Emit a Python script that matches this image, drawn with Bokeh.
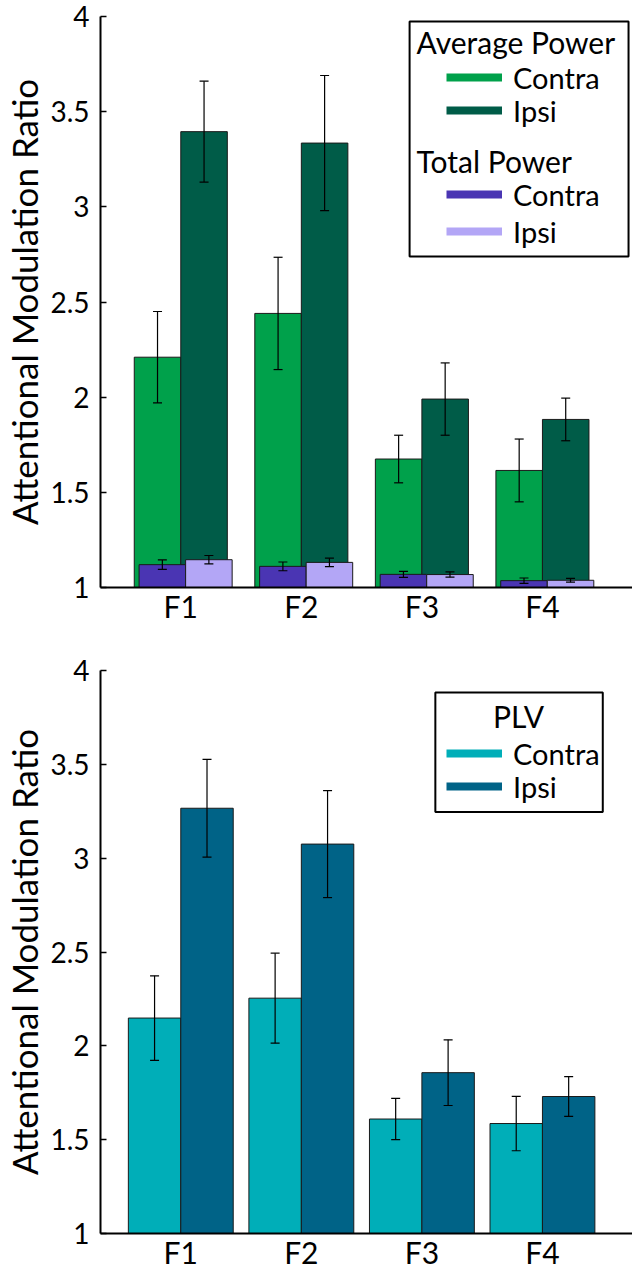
from bokeh.plotting import figure
from bokeh.models import (ColumnDataSource, Whisker, TeeHead, FixedTicker, Legend, LegendItem,
                          Label, BoxAnnotation, Range1d)
from bokeh.layouts import column
from bokeh.embed import file_html
from bokeh.resources import INLINE

# ---------------- data ----------------
groups = ["F1", "F2", "F3", "F4"]

avg_contra = [2.21, 2.44, 1.675, 1.615]
avg_contra_err = [0.24, 0.295, 0.125, 0.165]
avg_ipsi = [3.395, 3.335, 1.99, 1.883]
avg_ipsi_err = [0.265, 0.355, 0.19, 0.112]

tot_contra = [1.12, 1.111, 1.069, 1.036]
tot_contra_err = [0.025, 0.023, 0.016, 0.014]
tot_ipsi = [1.146, 1.132, 1.068, 1.038]
tot_ipsi_err = [0.022, 0.022, 0.014, 0.010]

plv_contra = [2.148, 2.254, 1.61, 1.586]
plv_contra_err = [0.225, 0.24, 0.11, 0.145]
plv_ipsi = [3.266, 3.075, 1.857, 1.73]
plv_ipsi_err = [0.26, 0.285, 0.175, 0.106]

y_ticks = [1, 1.5, 2, 2.5, 3, 3.5, 4]
y_tick_labels = ["1", "1.5", "2", "2.5", "3", "3.5", "4"]
y_label = "Attentional Modulation Ratio"

# ---------------- style / geometry ----------------
FONT = "Lato"
C_AVG_CONTRA = "#00A14B"
C_AVG_IPSI = "#005C48"
C_TOT_CONTRA = "#4A35B3"
C_TOT_IPSI = "#B3A6F6"
C_PLV_CONTRA = "#00AEB8"
C_PLV_IPSI = "#006387"
EDGE = "#1a1a1a"
BASE = 1

W = 632
LEFT = 95
FRAME_W = W - LEFT
X_START, X_END = 0.334, 4.747
PPX = FRAME_W / (X_END - X_START)

F1_H, F1_TOP, F1_FRAME_H = 640, 16, 571
F2_H, F2_TOP, F2_FRAME_H = 632, 30, 565

F1_FRAME_TOP = F1_TOP

xs = [i + 1 for i in range(len(groups))]


def px2x(px):
    return X_START + (px - LEFT) / PPX


def py2y(py, frame_top, frame_h):
    return 4 - (py - frame_top) / (frame_h / 3.0)


def make_fig(height, top, frame_h):
    p = figure(width=W, height=height, x_range=Range1d(X_START, X_END), y_range=Range1d(1, 4),
               output_backend="svg", toolbar_location=None,
               min_border_left=LEFT, min_border_right=0, min_border_top=top,
               min_border_bottom=height - top - frame_h)
    p.outline_line_color = None
    p.grid.visible = False
    p.background_fill_color = "white"
    p.border_fill_color = "white"

    ya = p.yaxis[0]
    ya.ticker = FixedTicker(ticks=y_ticks)
    ya.major_label_overrides = dict(zip(y_ticks, y_tick_labels))
    ya.major_label_text_font = FONT
    ya.major_label_text_font_size = "28px"
    ya.major_label_text_color = "black"
    ya.major_label_standoff = 11
    ya.major_tick_in = 6
    ya.major_tick_out = 0
    ya.minor_tick_line_color = None
    ya.axis_line_width = 2
    ya.axis_line_color = "black"
    ya.major_tick_line_color = "black"
    ya.major_tick_line_width = 1.5
    ya.axis_label = y_label
    ya.axis_label_text_font = FONT
    ya.axis_label_text_font_size = "35px"
    ya.axis_label_text_font_style = "normal"
    ya.axis_label_text_color = "black"
    ya.axis_label_standoff = 2

    xa = p.xaxis[0]
    xa.axis_line_width = 2
    xa.axis_line_color = "black"
    xa.major_tick_in = 0
    xa.major_tick_out = 0
    xa.minor_tick_line_color = None
    xa.major_tick_line_color = None
    xa.ticker = FixedTicker(ticks=xs)
    xa.major_label_overrides = dict(zip(xs, groups))
    xa.major_label_text_font = FONT
    xa.major_label_text_font_size = "30px"
    xa.major_label_text_color = "black"
    xa.major_label_standoff = 0
    return p


def add_bars(p, vals, errs, offset, width, color):
    src = ColumnDataSource(dict(
        x=[g + offset for g in xs],
        top=vals,
        upper=[v + e for v, e in zip(vals, errs)],
        lower=[v - e for v, e in zip(vals, errs)],
    ))
    p.vbar(x="x", top="top", bottom=BASE, width=width, source=src,
           fill_color=color, line_color=EDGE, line_width=1)
    w = Whisker(source=src, base="x", upper="upper", lower="lower", dimension="height",
                level="overlay", line_color="black", line_width=1.2,
                upper_head=TeeHead(size=9, line_color="black", line_width=1.2),
                lower_head=TeeHead(size=9, line_color="black", line_width=1.2))
    p.add_layout(w)


def add_legend_row(p, label, color, vals, row_center, frame_bottom):
    # legend swatch: an invisible line renderer gives the thick colour bar of the key
    r = p.line(x=xs, y=vals, line_color=color, line_width=8, visible=False)
    leg = Legend(items=[LegendItem(label=label, renderers=[r])],
                 location=(441 - LEFT, int(round(frame_bottom - (row_center + 20)))),
                 glyph_width=56, glyph_height=40, label_height=40, label_standoff=11,
                 padding=0, margin=0, spacing=0, click_policy="none",
                 border_line_color=None, background_fill_alpha=0,
                 label_text_font=FONT, label_text_font_size="29px", label_text_color="black")
    p.add_layout(leg)


# ---------------- top chart ----------------
p1 = make_fig(F1_H, F1_TOP, F1_FRAME_H)
AVG_W = 0.386
TOT_SHIFT = 0.04
add_bars(p1, avg_contra, avg_contra_err, -AVG_W / 2, AVG_W, C_AVG_CONTRA)
add_bars(p1, avg_ipsi, avg_ipsi_err, AVG_W / 2, AVG_W, C_AVG_IPSI)
add_bars(p1, tot_contra, tot_contra_err, TOT_SHIFT - AVG_W / 2, AVG_W, C_TOT_CONTRA)
add_bars(p1, tot_ipsi, tot_ipsi_err, TOT_SHIFT + AVG_W / 2, AVG_W, C_TOT_IPSI)

f1b = F1_FRAME_TOP + F1_FRAME_H


def y1(py):
    return py2y(py, F1_FRAME_TOP, F1_FRAME_H)


p1.add_layout(BoxAnnotation(left=px2x(407), right=px2x(628), top=y1(21), bottom=y1(256),
                            fill_color=None, line_color="black", line_width=2, line_alpha=1))
p1.add_layout(Label(x=px2x(414), y=y1(41), text="Average Power", text_font=FONT,
                    text_font_size="30px", text_baseline="middle", text_align="left", text_color="black"))
add_legend_row(p1, "Contra", C_AVG_CONTRA, avg_contra, 77, f1b)
add_legend_row(p1, "Ipsi", C_AVG_IPSI, avg_ipsi, 110, f1b)
p1.add_layout(Label(x=px2x(414), y=y1(160), text="Total Power", text_font=FONT,
                    text_font_size="30px", text_baseline="middle", text_align="left", text_color="black"))
add_legend_row(p1, "Contra", C_TOT_CONTRA, tot_contra, 194, f1b)
add_legend_row(p1, "Ipsi", C_TOT_IPSI, tot_ipsi, 231, f1b)

# ---------------- bottom chart ----------------
p2 = make_fig(F2_H, F2_TOP, F2_FRAME_H)
PLV_W = 0.435
add_bars(p2, plv_contra, plv_contra_err, -PLV_W / 2, PLV_W, C_PLV_CONTRA)
add_bars(p2, plv_ipsi, plv_ipsi_err, PLV_W / 2, PLV_W, C_PLV_IPSI)

f2b_local = F2_TOP + F2_FRAME_H


def y2(py):
    return py2y(py - F1_H, F2_TOP, F2_FRAME_H)


p2.add_layout(BoxAnnotation(left=px2x(433), right=px2x(602), top=y2(692), bottom=y2(812),
                            fill_color=None, line_color="black", line_width=2, line_alpha=1))
p2.add_layout(Label(x=px2x(517), y=y2(716), text="PLV", text_font=FONT,
                    text_font_size="30px", text_baseline="middle", text_align="center", text_color="black"))
add_legend_row(p2, "Contra", C_PLV_CONTRA, plv_contra, 755 - F1_H, f2b_local)
add_legend_row(p2, "Ipsi", C_PLV_IPSI, plv_ipsi, 788 - F1_H, f2b_local)

layout = column(p1, p2, spacing=0)
open("out.html", "w").write(file_html(layout, INLINE))
